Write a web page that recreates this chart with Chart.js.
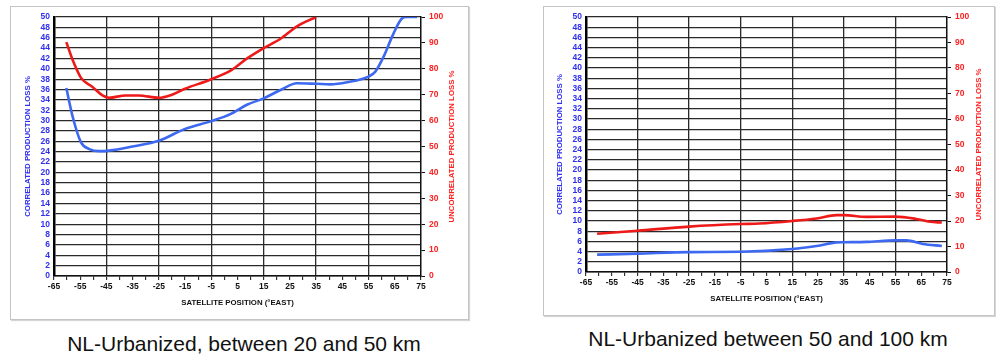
<!DOCTYPE html>
<html><head><meta charset="utf-8">
<script src="https://cdn.jsdelivr.net/npm/chart.js@4.4.1/dist/chart.umd.min.js"></script>
<style>
html,body{margin:0;padding:0;background:#fff;width:996px;height:354px;overflow:hidden;}
.box{position:absolute;border:1px solid #c4c4c4;box-shadow:1px 1px 1px #d6d6d6;background:#fff;}
.box canvas{position:absolute;left:0;top:0;}
.cap{position:absolute;font-family:'Liberation Sans',Arial,sans-serif;font-size:21px;line-height:21px;color:#111;white-space:nowrap;transform:translateX(-50%);}
</style></head><body>
<div class="box" style="left:10px;top:6px;width:457px;height:312px;"><canvas id="cA" width="457" height="312"></canvas></div>
<div class="box" style="left:543px;top:6px;width:450px;height:308px;"><canvas id="cB" width="450" height="308"></canvas></div>
<div class="cap" style="left:244px;top:333px;">NL-Urbanized, between 20 and 50 km</div>
<div class="cap" style="left:768px;top:328px;">NL-Urbanized between 50 and 100 km</div>
<script>
// ---- Data ----
// Chart A: NL-Urbanized, between 20 and 50 km
const A_corrX = [-60.3, -57.8, -54.7, -51.5, -47.8, -44, -35, -25, -15, -5, 2.5, 8.8, 15, 21, 27.7, 35, 40.4, 46.8, 55, 57.5, 60.7, 64.5, 67.7, 69.6, 73.5];
const A_corrY = [36.3, 30.6, 25.8, 24.5, 24.1, 24.2, 25.0, 26.1, 28.4, 29.9, 31.3, 33.1, 34.3, 35.8, 37.2, 37.1, 37.0, 37.4, 38.5, 39.4, 42.3, 46.8, 49.7, 50, 50];
const A_uncX = [-60.3, -57.8, -54.7, -50.3, -46.5, -44, -37.7, -32.7, -25, -20, -15, -5.5, 2.5, 8.8, 15, 21.4, 27.7, 35];
const A_uncY = [90.3, 83.2, 76.5, 73, 69.7, 68.8, 69.7, 69.7, 68.8, 70, 72.3, 75.8, 79.4, 84.1, 88, 91.6, 96.4, 100];
// Chart B: NL-Urbanized between 50 and 100 km
const B_corrX = [-60.7, -45, -25, -5, 15, 24.4, 32.2, 35, 43.7, 55, 59.2, 65.6, 73];
const B_corrY = [3.4, 3.6, 3.9, 3.96, 4.5, 5.1, 5.8, 5.84, 5.9, 6.2, 6.2, 5.5, 5.1];
const B_uncX = [-60.7, -45, -25, -5, 2.2, 15, 24.4, 32.2, 35, 43.7, 55, 63.1, 68.5, 73];
const B_uncY = [15, 16.2, 17.8, 18.8, 19, 20, 21, 22.3, 22.3, 21.6, 21.7, 20.8, 19.7, 19.4];
// Axis ticks
const xTickMarks = [-65,-60,-55,-50,-45,-40,-35,-30,-25,-20,-15,-10,-5,0,5,10,15,20,25,30,35,40,45,50,55,60,65,70,75];
const xTickLabels = [-65,-55,-45,-35,-25,-15,-5,5,15,25,35,45,55,65,75];
const xGridLines = [-45,-25,-5,15,35,55];
const xTitle = 'SATELLITE POSITION (°EAST)';
const yLeftTitle = 'CORRELATED PRODUCTION LOSS %';
const yRightTitle = 'UNCORRELATED PRODUCTION LOSS %';

const BLUE = '#3d68f0', RED = '#ee1a1a', BLUE_TXT = '#3030ee', RED_TXT = '#ff2020', GRID = '#2a2a2a';
const FAM = "'Liberation Sans', Arial, sans-serif";
const tickFont = {family: FAM, size: 8.5, weight: 'bold'};
const titleFont = {family: FAM, size: 7.8, weight: 'bold'};

// Right-axis title reading bottom-to-top, as in the reference
const rightTitlePlugin = {
  id: 'rightTitle',
  afterDraw(chart, args, opts) {
    const s = chart.scales.y1, ctx = chart.ctx;
    ctx.save();
    ctx.font = `bold ${titleFont.size}px ${FAM}`;
    ctx.fillStyle = RED_TXT;
    ctx.textAlign = 'center';
    ctx.textBaseline = 'middle';
    ctx.translate(s.right - opts.offset, (s.top + s.bottom) / 2);
    ctx.rotate(-Math.PI / 2);
    ctx.fillText(yRightTitle, 0, 0);
    ctx.restore();
  }
};

function makeChart(id, cx, cy, ux, uy, dims) {
  new Chart(document.getElementById(id), {
    type: 'line',
    data: {datasets: [
      {label: 'Correlated', data: cx.map((x, i) => ({x, y: cy[i]})), yAxisID: 'y', borderColor: BLUE, borderWidth: 2.6, pointRadius: 0, cubicInterpolationMode: 'monotone', fill: false},
      {label: 'Uncorrelated', data: ux.map((x, i) => ({x, y: uy[i]})), yAxisID: 'y1', borderColor: RED, borderWidth: 2.6, pointRadius: 0, cubicInterpolationMode: 'monotone', fill: false}
    ]},
    plugins: [rightTitlePlugin],
    options: {
      responsive: false, animation: false, devicePixelRatio: 1,
      layout: {padding: {top: 10, left: 0, right: 0, bottom: 0}},
      plugins: {legend: {display: false}, tooltip: {enabled: false}, rightTitle: {offset: dims.tr}},
      scales: {
        x: {
          type: 'linear', min: -65, max: 75,
          afterBuildTicks: s => { s.ticks = xTickMarks.map(v => ({value: v})); },
          afterFit: s => { s.height = dims.xh; },
          ticks: {autoSkip: false, maxRotation: 0, padding: 2, font: tickFont, color: '#111',
                  callback: v => xTickLabels.includes(v) ? String(v) : ''},
          grid: {color: c => (c.tick && xGridLines.includes(c.tick.value)) ? GRID : 'rgba(0,0,0,0)', lineWidth: 1.3,
                 drawTicks: true, tickLength: 4, tickColor: '#111', tickWidth: 1},
          border: {display: true, color: '#111', width: 1.5},
          title: {display: true, text: xTitle, font: titleFont, color: '#111', padding: {top: 0, bottom: 11}}
        },
        y: {
          position: 'left', min: 0, max: 50,
          afterFit: s => { s.width = dims.yl; },
          ticks: {stepSize: 2, autoSkip: false, padding: 4, font: tickFont, color: BLUE_TXT},
          grid: {color: GRID, lineWidth: 1.3, drawTicks: false},
          border: {display: true, color: '#000', width: 2.5},
          title: {display: true, text: yLeftTitle, font: titleFont, color: BLUE_TXT, padding: {top: dims.tl, bottom: 0}}
        },
        y1: {
          position: 'right', min: 0, max: 100,
          afterFit: s => { s.width = dims.yr; },
          ticks: {stepSize: 10, autoSkip: false, padding: 4, font: tickFont, color: RED_TXT},
          grid: {drawOnChartArea: false, drawTicks: true, tickLength: 4, tickColor: '#111'},
          border: {display: true, color: '#111', width: 1.5},
          title: {display: false}
        }
      }
    }
  });
}
makeChart('cA', A_corrX, A_corrY, A_uncX, A_uncY, {xh: 43, yl: 43, yr: 47, tl: 12, tr: 16});
makeChart('cB', B_corrX, B_corrY, B_uncX, B_uncY, {xh: 43, yl: 42, yr: 47, tl: 11, tr: 15});
</script>
</body></html>
